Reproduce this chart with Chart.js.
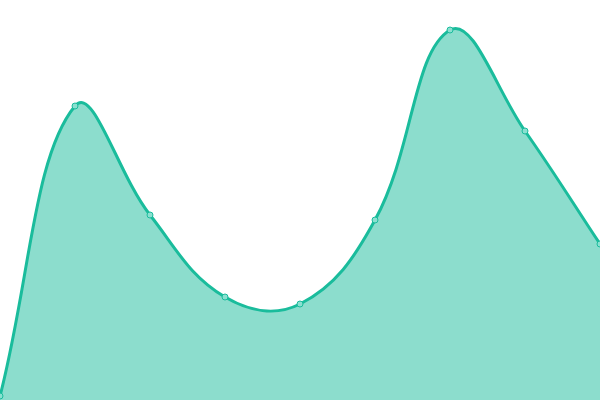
<!DOCTYPE html>
<html>
<head>
<meta charset="utf-8">
<script src="https://cdn.jsdelivr.net/npm/chart.js@4/dist/chart.umd.min.js"></script>
<style>
  html, body { margin: 0; padding: 0; background: #fff; }
  #wrap { width: 600px; height: 400px; }
</style>
</head>
<body>
<div id="wrap"><canvas id="grafico"></canvas></div>
<script>
// datos
const etiquetas = ['1', '2', '3', '4', '5', '6', '7', '8', '9'];
const valores = [4, 294, 185, 103, 96, 180, 370, 269, 156];

const ctx = document.getElementById('grafico').getContext('2d');

const grafico = new Chart(ctx, {
    type: 'line',
    data: {
        labels: etiquetas,
        datasets: [{
            data: valores,
            borderColor: '#1abc9c',
            backgroundColor: 'rgba(26, 188, 156, 0.5)',
            borderWidth: 3,
            fill: true,
            tension: 0.4,
            pointRadius: 3,
            pointBorderWidth: 1,
            pointBackgroundColor: '#8ae0d0',
            pointBorderColor: '#1abc9c'
        }]
    },
    options: {
        responsive: true,
        maintainAspectRatio: false,
        animation: false,
        layout: { padding: 0, autoPadding: false },
        plugins: {
            legend: { display: false },
            tooltip: { enabled: false }
        },
        scales: {
            x: { display: false, offset: false },
            y: { display: false, min: 0, max: 400 }
        }
    }
});
</script>
</body>
</html>
